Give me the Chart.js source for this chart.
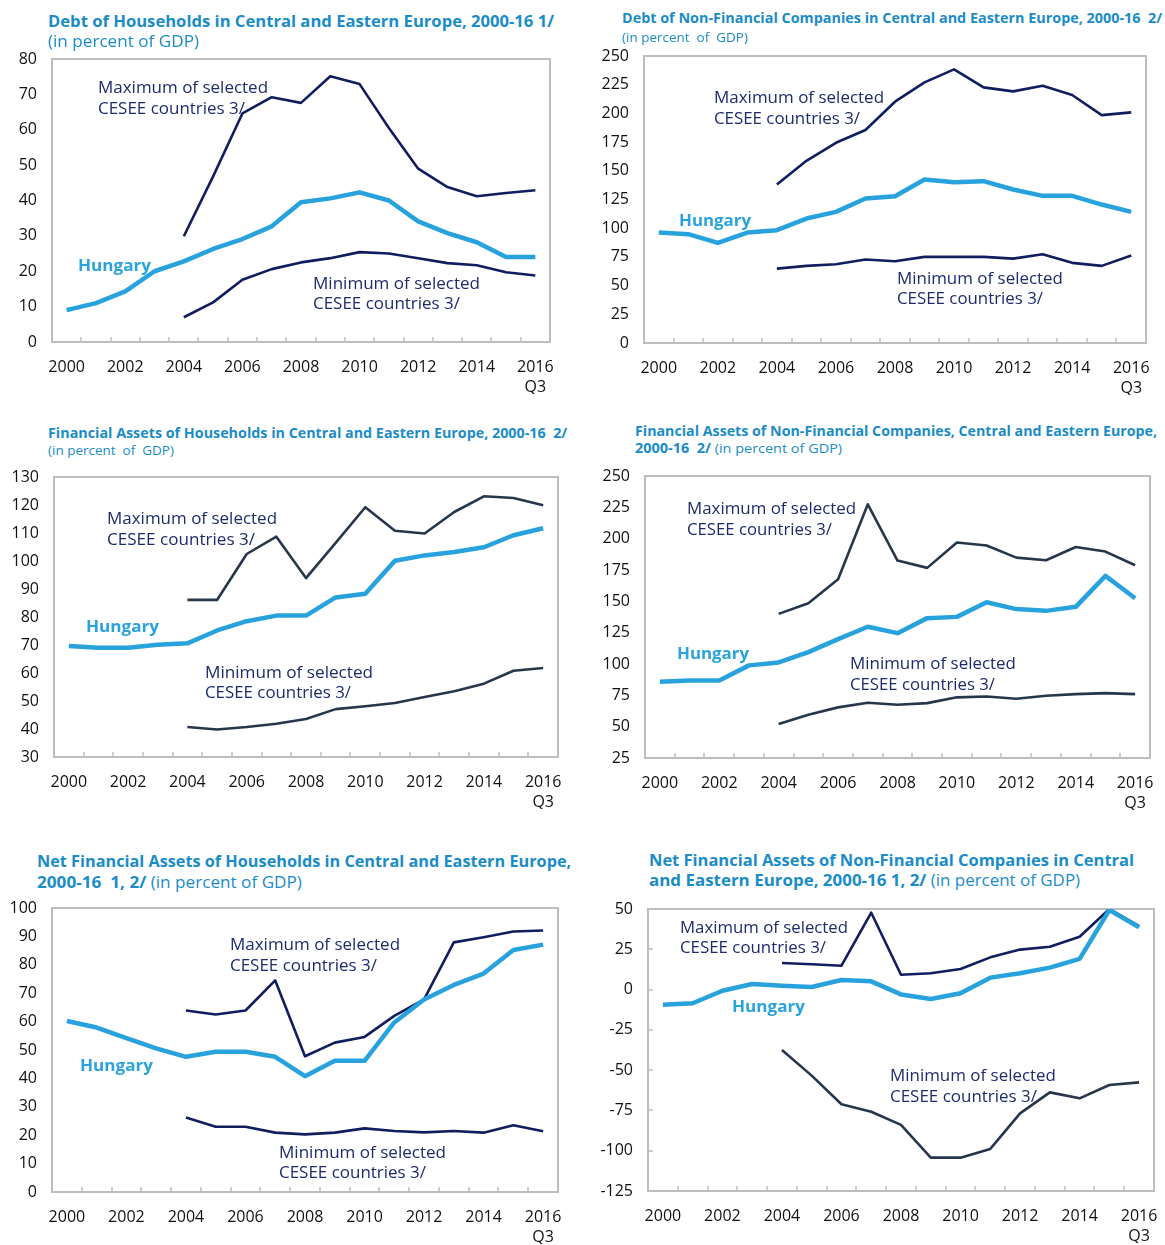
<!DOCTYPE html>
<html>
<head>
<meta charset="utf-8">
<title>CESEE balance sheets</title>
<script src="https://cdn.jsdelivr.net/npm/chart.js"></script>
<style>
  body { margin:0; background:#fff; width:1165px; height:1245px; position:relative; overflow:hidden;
         font-family:"Open Sans", "Noto Sans", sans-serif; }
  canvas { position:absolute; }
  .t { position:absolute; white-space:nowrap; transform-origin:0 50%; }
  .title { color:#1a8cc8; font-weight:700; }
  .sub { color:#1a8cc8; font-weight:400; }
  .note { color:#1d2b6e; font-size:16.5px; line-height:20px; }
  .hun { color:#2aa3dd; font-weight:700; font-size:16.5px; line-height:20px; }
</style>
</head>
<body>
<script>
// ---- data ----
const years = ['2000','2001','2002','2003','2004','2005','2006','2007','2008','2009','2010','2011','2012','2013','2014','2015','2016'];
const xTickLabels = ['2000','','2002','','2004','','2006','','2008','','2010','','2012','','2014','',['2016','Q3']];

// Debt of households
const hhDebtHungary = [9.0, 11.0, 14.3, 20.0, 22.8, 26.3, 29.1, 32.7, 39.5, 40.6, 42.3, 40.0, 34.1, 30.8, 28.2, 24.0, 24.0];
const hhDebtMax = [null, null, null, null, 29.9, 46.8, 64.6, 69.2, 67.6, 75.1, 72.9, 60.5, 49.0, 43.8, 41.2, 42.1, 42.9];
const hhDebtMin = [null, null, null, null, 7.0, 11.2, 17.6, 20.6, 22.5, 23.7, 25.4, 25.0, 23.7, 22.3, 21.7, 19.7, 18.8];

// Debt of non-financial companies
const nfcDebtHungary = [96.2, 94.8, 87.2, 96.2, 98.3, 108.4, 114.2, 125.9, 127.9, 142.4, 140.1, 141.0, 133.7, 128.2, 128.2, 120.6, 114.2];
const nfcDebtMax = [null, null, null, null, 138.1, 158.7, 174.4, 185.5, 210.2, 227.0, 238.4, 222.7, 219.2, 224.1, 216.0, 198.5, 200.9];
const nfcDebtMin = [null, null, null, null, 64.8, 67.2, 68.6, 72.7, 71.2, 75.0, 75.0, 75.0, 73.5, 77.3, 69.8, 67.2, 76.2];

// Financial assets of households
const hhAssetsHungary = [69.6, 69.0, 69.0, 70.1, 70.6, 75.2, 78.5, 80.5, 80.5, 87.0, 88.3, 100.1, 102.0, 103.2, 104.9, 109.2, 111.7];
const hhAssetsMax = [null, null, null, null, 86.1, 86.1, 102.5, 108.7, 93.9, 106.5, 119.2, 110.8, 109.8, 117.5, 123.1, 122.5, 119.9];
const hhAssetsMin = [null, null, null, null, 40.7, 39.8, 40.7, 41.9, 43.6, 47.1, 48.1, 49.3, 51.4, 53.5, 56.2, 60.8, 61.8];

// Financial assets of non-financial companies
const nfcAssetsHungary = [85.8, 86.9, 86.9, 98.9, 101.2, 109.5, 119.8, 129.7, 124.6, 136.6, 137.6, 149.3, 143.8, 142.4, 145.6, 170.3, 152.5];
const nfcAssetsMax = [null, null, null, null, 140.0, 148.5, 167.7, 227.4, 182.5, 176.7, 196.9, 194.5, 184.9, 182.8, 193.4, 189.7, 178.8];
const nfcAssetsMin = [null, null, null, null, 52.1, 59.5, 65.4, 69.1, 67.5, 68.8, 73.4, 74.1, 72.3, 74.7, 76.0, 76.8, 76.0];

// Net financial assets of households
const hhNetHungary = [60.2, 57.9, 54.2, 50.6, 47.6, 49.4, 49.4, 47.6, 40.8, 46.2, 46.2, 59.7, 67.8, 72.9, 76.9, 85.2, 87.1];
const hhNetMax = [null, null, null, null, 63.9, 62.5, 63.9, 74.5, 47.8, 52.6, 54.6, 62.0, 67.8, 87.9, 89.7, 91.7, 92.1];
const hhNetMin = [null, null, null, null, 26.2, 23.0, 23.0, 20.9, 20.3, 20.9, 22.4, 21.5, 21.0, 21.5, 20.9, 23.5, 21.4];

// Net financial assets of non-financial companies
const nfcNetHungary = [-9.4, -8.5, -0.7, 3.5, 2.4, 1.6, 5.9, 5.1, -3.0, -5.9, -2.3, 7.4, 10.1, 13.6, 19.0, 49.4, 38.6];
const nfcNetMax = [null, null, null, null, 16.5, 15.7, 14.8, 47.7, 9.2, 10.1, 12.8, 20.0, 24.8, 26.6, 32.8, 50.0, 39.4];
const nfcNetMin = [null, null, null, null, -37.5, -53.4, -71.2, -75.8, -84.0, -104.3, -104.3, -98.9, -76.8, -63.8, -67.5, -59.2, -57.6];

// ---- styling ----
const HUN = '#28a2dd', NAVY = '#101d5e', SLATE = '#26364b', FRAME = '#bdbdbd';
const FONT = '"Open Sans", "Noto Sans", sans-serif';
const yW = 56, xH = 52, padT = 14, padR = 12;

// plot-area rectangles of each panel (left, top, right, bottom)
const panels = [
  { rect:[52, 59, 550, 342],   y:[0, 80, 10],     lines:[[hhDebtHungary, HUN, 4.5], [hhDebtMax, NAVY, 2.6], [hhDebtMin, NAVY, 2.6]] },
  { rect:[644, 56, 1146, 343], y:[0, 250, 25],    lines:[[nfcDebtHungary, HUN, 4.5], [nfcDebtMax, NAVY, 2.6], [nfcDebtMin, NAVY, 2.6]] },
  { rect:[54, 477, 558, 757],  y:[30, 130, 10],   lines:[[hhAssetsHungary, HUN, 4.5], [hhAssetsMax, SLATE, 2.6], [hhAssetsMin, SLATE, 2.6]] },
  { rect:[645, 476, 1150, 758],y:[25, 250, 25],   lines:[[nfcAssetsHungary, HUN, 4.5], [nfcAssetsMax, SLATE, 2.6], [nfcAssetsMin, SLATE, 2.6]] },
  { rect:[52, 908, 558, 1192], y:[0, 100, 10],    lines:[[hhNetHungary, HUN, 4.5], [hhNetMax, NAVY, 2.6], [hhNetMin, NAVY, 2.6]] },
  { rect:[648, 909, 1154, 1191], y:[-125, 50, 25], lines:[[nfcNetHungary, HUN, 4.5], [nfcNetMax, NAVY, 2.6], [nfcNetMin, SLATE, 2.6]], yTicks:true }
];

// frame box plus small inward tick marks between the years
const framePlugin = {
  id: 'frame',
  beforeDatasetsDraw(chart, args, o) {
    const { ctx, chartArea: a, scales: { x, y } } = chart;
    ctx.save();
    ctx.strokeStyle = FRAME;
    ctx.lineWidth = 2;
    ctx.strokeRect(a.left, a.top, a.right - a.left, a.bottom - a.top);
    ctx.lineWidth = 1.5;
    ctx.beginPath();
    for (let i = 1; i < years.length; i++) {
      const px = Math.round((x.getPixelForValue(i - 1) + x.getPixelForValue(i)) / 2);
      ctx.moveTo(px, a.bottom); ctx.lineTo(px, a.bottom - 5);
    }
    if (o.yTicks) {
      y.ticks.forEach(t => {
        const py = Math.round(y.getPixelForValue(t.value));
        ctx.moveTo(a.left, py); ctx.lineTo(a.left + 5, py);
      });
    }
    ctx.stroke();
    ctx.restore();
  }
};

panels.forEach(p => {
  const [L, T, R, B] = p.rect;
  const cv = document.createElement('canvas');
  const w = (R - L) + yW + padR, h = (B - T) + padT + xH;
  cv.width = w; cv.height = h;
  cv.style.left = (L - yW) + 'px';
  cv.style.top = (T - padT) + 'px';
  cv.style.width = w + 'px'; cv.style.height = h + 'px';
  document.body.appendChild(cv);

  new Chart(cv, {
    type: 'line',
    data: {
      labels: years,
      datasets: p.lines.map(([data, color, bw]) => ({
        data, borderColor: color, borderWidth: bw, pointRadius: 0,
        tension: 0, borderJoinStyle: 'round', fill: false
      }))
    },
    options: {
      responsive: false, animation: false, devicePixelRatio: 1, events: [],
      layout: { padding: { top: padT, right: padR, left: 0, bottom: 0 } },
      plugins: { legend: { display: false }, tooltip: { enabled: false }, frame: { yTicks: !!p.yTicks } },
      scales: {
        x: {
          offset: true,
          grid: { display: false, drawTicks: false },
          border: { display: false },
          ticks: { autoSkip: false, maxRotation: 0, padding: 15, color: '#111',
                   font: { family: FONT, size: 16, lineHeight: 1.25 },
                   callback: (v, i) => xTickLabels[i] },
          afterFit(s) { s.height = xH; s.paddingLeft = 0; s.paddingRight = 0; }
        },
        y: {
          min: p.y[0], max: p.y[1],
          grid: { display: false, drawTicks: false },
          border: { display: false },
          ticks: { stepSize: p.y[2], padding: 15, color: '#111', font: { family: FONT, size: 16 } },
          afterFit(s) { s.width = yW; s.paddingTop = 0; s.paddingBottom = 0; }
        }
      }
    },
    plugins: [framePlugin]
  });
});

// ---- text: [class, left, centerY, targetWidth, html, fontSize] ----
const MAX1 = 'Maximum of selected', MAX2 = 'CESEE countries 3/';
const MIN1 = 'Minimum of selected';
const texts = [
  ['title', 48, 20, 506, 'Debt of Households in Central and Eastern Europe, 2000-16 1/', 16.5],
  ['sub', 48, 41, 151, '(in percent of GDP)', 16],
  ['title', 622, 18, 540, 'Debt of Non-Financial Companies in Central and Eastern Europe, 2000-16&nbsp; 2/', 13.5],
  ['sub', 622, 37, 126, '(in percent&nbsp; of&nbsp; GDP)', 13.5],
  ['title', 48, 433, 519, 'Financial Assets of Households in Central and Eastern Europe, 2000-16&nbsp; 2/', 13.5],
  ['sub', 48, 450, 126, '(in percent&nbsp; of&nbsp; GDP)', 13.5],
  ['title', 635, 431, 522, 'Financial Assets of Non-Financial Companies, Central and Eastern Europe,', 13.5],
  ['title', 635, 448, 207, '2000-16&nbsp; 2/ <span style="font-weight:400">(in percent of GDP)</span>', 13.5],
  ['title', 37, 860, 534, 'Net Financial Assets of Households in Central and Eastern Europe,', 16.5],
  ['title', 37, 881, 265, '2000-16&nbsp; 1, 2/ <span style="font-weight:400">(in percent of GDP)</span>', 16.5],
  ['title', 649, 859, 485, 'Net Financial Assets of Non-Financial Companies in Central', 16.5],
  ['title', 649, 879, 431, 'and Eastern Europe, 2000-16 1, 2/ <span style="font-weight:400">(in percent of GDP)</span>', 16.5],

  ['note', 98, 87, 170, MAX1], ['note', 98, 108, 147, MAX2],
  ['hun', 78, 265, 73, 'Hungary'],
  ['note', 313, 283, 167, MIN1], ['note', 313, 303, 147, MAX2],

  ['note', 714, 97, 170, MAX1], ['note', 714, 118, 146, MAX2],
  ['hun', 679, 220, 72, 'Hungary'],
  ['note', 897, 278, 166, MIN1], ['note', 897, 298, 146, MAX2],

  ['note', 107, 518, 170, MAX1], ['note', 107, 539, 148, MAX2],
  ['hun', 86, 626, 73, 'Hungary'],
  ['note', 205, 672, 168, MIN1], ['note', 205, 692, 146, MAX2],

  ['note', 687, 508, 169, MAX1], ['note', 687, 529, 145, MAX2],
  ['hun', 677, 653, 72, 'Hungary'],
  ['note', 850, 663, 166, MIN1], ['note', 850, 684, 145, MAX2],

  ['note', 230, 944, 170, MAX1], ['note', 230, 965, 147, MAX2],
  ['hun', 80, 1065, 73, 'Hungary'],
  ['note', 279, 1152, 167, MIN1], ['note', 279, 1172, 147, MAX2],

  ['note', 680, 927, 168, MAX1], ['note', 680, 947, 146, MAX2],
  ['hun', 732, 1006, 73, 'Hungary'],
  ['note', 890, 1075, 166, MIN1], ['note', 890, 1096, 147, MAX2]
];

const els = texts.map(([cls, x, cy, tw, html, fs]) => {
  const d = document.createElement('div');
  d.className = 't ' + cls;
  d.innerHTML = html;
  if (fs) { d.style.fontSize = fs + 'px'; d.style.lineHeight = Math.round(fs * 1.25) + 'px'; }
  const lh = fs ? Math.round(fs * 1.25) : 20;
  d.style.left = x + 'px';
  d.style.top = (cy - lh / 2) + 'px';
  document.body.appendChild(d);
  return [d, tw];
});
els.forEach(([d, tw]) => {
  const w = d.getBoundingClientRect().width;
  if (w > 0) d.style.transform = 'scaleX(' + (tw / w).toFixed(3) + ')';
});
</script>
</body>
</html>
